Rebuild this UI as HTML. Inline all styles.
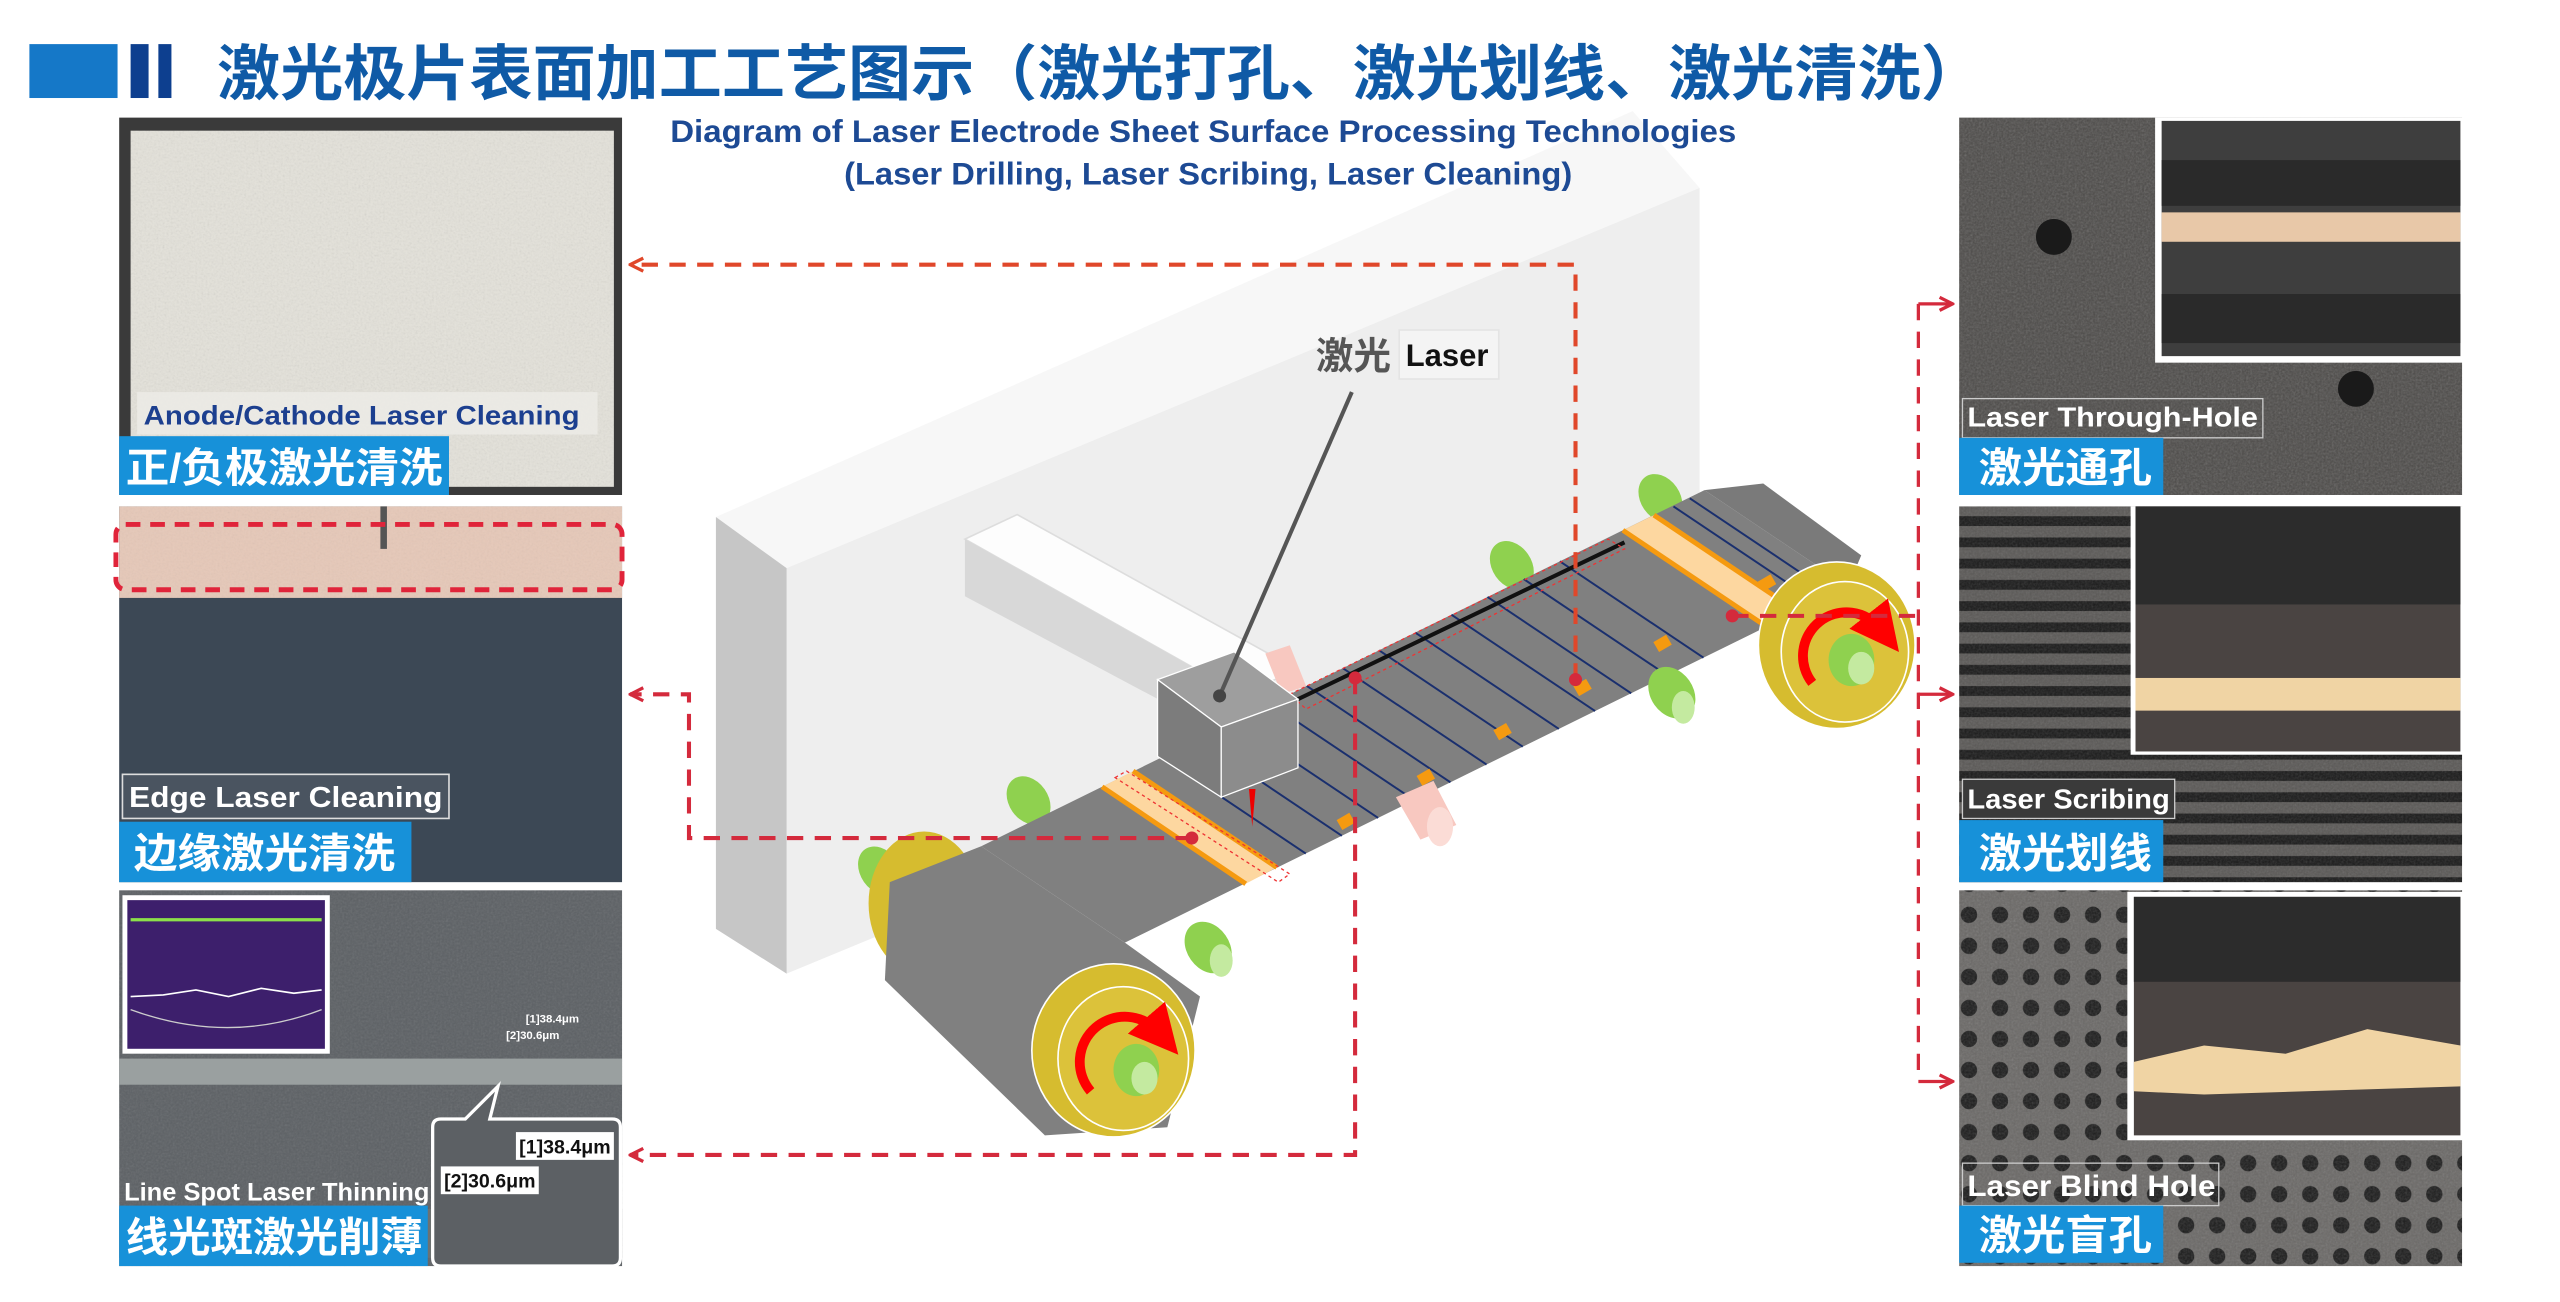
<!DOCTYPE html>
<html><head><meta charset="utf-8"><style>
html,body{margin:0;padding:0;background:#fff;}
svg{display:block;}
text{font-family:"Liberation Sans","Noto Sans CJK SC",sans-serif;font-weight:bold;}
</style></head><body>
<svg width="2560" height="1302" viewBox="0 0 1568 797" preserveAspectRatio="none" xmlns="http://www.w3.org/2000/svg">
<defs>
<filter id="nz" x="0" y="0" width="100%" height="100%"><feTurbulence type="fractalNoise" baseFrequency="0.8" numOctaves="2" seed="3"/><feColorMatrix type="saturate" values="0"/><feComponentTransfer><feFuncA type="table" tableValues="0 0.55"/></feComponentTransfer></filter>
<pattern id="stripes" width="20" height="13" patternUnits="userSpaceOnUse"><rect width="20" height="13" fill="#5a5856"/><rect y="4" width="20" height="6" fill="#1a1a1a"/></pattern>
<pattern id="dots" width="19" height="19" patternUnits="userSpaceOnUse"><rect width="19" height="19" fill="#6a6866"/><circle cx="9" cy="9" r="5" fill="#1c1c1c"/></pattern>
<marker id="ao" markerWidth="10" markerHeight="10" refX="9" refY="5" orient="auto" markerUnits="userSpaceOnUse"><path d="M1,1 L9,5 L1,9" fill="none" stroke="#e0472a" stroke-width="2"/></marker>
<marker id="arr" markerWidth="10" markerHeight="10" refX="9" refY="5" orient="auto" markerUnits="userSpaceOnUse"><path d="M1,1 L9,5 L1,9" fill="none" stroke="#d42a3c" stroke-width="2"/></marker>
<marker id="rh" markerWidth="5" markerHeight="5" refX="2" refY="2.5" orient="auto"><path d="M0,0 L5,2.5 L0,5Z" fill="#f00"/></marker>
</defs>

<!-- Title -->
<rect x="18" y="27" width="54" height="33" fill="#1578c8"/>
<rect x="80" y="27" width="11" height="33" fill="#0d3f8f"/>
<rect x="97" y="27" width="8" height="33" fill="#0d3f8f"/>
<text x="133" y="58" font-size="37" fill="#0f5aa6" textLength="1082" lengthAdjust="spacingAndGlyphs">激光极片表面加工工艺图示（激光打孔、激光划线、激光清洗）</text>

<!-- Back wall -->
<polygon points="438.5,316.5 1000,68 1041,115 481.8,347.8" fill="#f7f7f7"/>
<polygon points="481.8,347.8 1041,115 1041,365 481.8,596" fill="#eeeeee"/>
<polygon points="438.5,316.5 481.8,347.8 481.8,596 438.5,568.6" fill="#c6c6c6"/>

<text x="737" y="87" font-size="19" fill="#1d4a94" text-anchor="middle" textLength="653" lengthAdjust="spacingAndGlyphs">Diagram of Laser Electrode Sheet Surface Processing Technologies</text>
<text x="740" y="113" font-size="19" fill="#1d4a94" text-anchor="middle" textLength="446" lengthAdjust="spacingAndGlyphs">(Laser Drilling, Laser Scribing, Laser Cleaning)</text>

<!-- Arm -->
<polygon points="591,330 623,315 795,410 760,425" fill="#fdfdfd" stroke="#ddd"/>
<polygon points="591,330 760,425 760,455 591,365" fill="#d8d8d8"/>

<!-- green/pink pegs behind -->
<g fill="#8fd14f">
<ellipse cx="539" cy="533" rx="12" ry="16" transform="rotate(-35 539 533)"/>
<ellipse cx="630" cy="490" rx="12" ry="16" transform="rotate(-35 630 490)"/>
<ellipse cx="926" cy="346" rx="12" ry="16" transform="rotate(-35 926 346)"/>
<ellipse cx="1017" cy="305" rx="12" ry="16" transform="rotate(-35 1017 305)"/>
</g>
<polygon points="775,400 790,395 800,420 785,425" fill="#f8c8c0"/>

<!-- Belt lower run & left roller -->
<ellipse cx="566" cy="553" rx="34" ry="44" fill="#d6bc2f"/>
<polygon points="545,540 601,518 689,577 735,610 715,690 640,695 542,600" fill="#808080"/>
<!-- belt upper run -->
<polygon points="601,518 1044,300 1132,359 689,577" fill="#808080"/>
<polygon points="1044,300 1080,296 1140,340 1132,359" fill="#7a7a7a"/>
<!-- peach bands -->
<polygon points="675,481.6 694,472 782,531 763,541" fill="#fdd7a0"/>
<line x1="675" y1="481.6" x2="763" y2="541" stroke="#f59a10" stroke-width="3"/>
<line x1="694" y1="472" x2="782" y2="531" stroke="#f59a10" stroke-width="3"/>
<polygon points="994,324.6 1013,315.3 1101,374.3 1082,383.6" fill="#fdd7a0"/>
<line x1="994" y1="324.6" x2="1082" y2="383.6" stroke="#f59a10" stroke-width="3"/>
<line x1="1013" y1="315.3" x2="1101" y2="374.3" stroke="#f59a10" stroke-width="3"/>
<!-- blue lines -->
<g stroke="#1a2f6e" stroke-width="1.2">
<line x1="711.8" y1="463.5" x2="799.8" y2="522.5"/><line x1="733.9" y1="452.6" x2="821.9" y2="511.6"/>
<line x1="756.1" y1="441.7" x2="844.1" y2="500.7"/><line x1="778.2" y1="430.8" x2="866.2" y2="489.8"/>
<line x1="800.4" y1="419.9" x2="888.4" y2="478.9"/><line x1="822.5" y1="409" x2="910.5" y2="468"/>
<line x1="844.7" y1="398.1" x2="932.7" y2="457.1"/><line x1="866.8" y1="387.2" x2="954.8" y2="446.2"/>
<line x1="889" y1="376.3" x2="977" y2="435.3"/><line x1="911.1" y1="365.4" x2="999.1" y2="424.4"/>
<line x1="933.3" y1="354.5" x2="1021.3" y2="413.5"/><line x1="955.4" y1="343.6" x2="1043.4" y2="402.6"/>
<line x1="1025" y1="310" x2="1113" y2="369"/><line x1="1035" y1="305" x2="1123" y2="364"/>
</g>
<line x1="795" y1="428" x2="995" y2="332" stroke="#111" stroke-width="2.5"/>
<polygon points="790,425 985,330 995,336 800,434" fill="none" stroke="#e33" stroke-width="0.8" stroke-dasharray="2,2"/>
<polygon points="683,476 690,472 790,535 783,540" fill="none" stroke="#e33" stroke-width="0.8" stroke-dasharray="2,2"/>
<!-- orange squares -->
<g fill="#f59a10">
<rect x="820" y="499" width="9" height="7" transform="rotate(-30 825 503)"/>
<rect x="869" y="472" width="9" height="7" transform="rotate(-30 874 476)"/>
<rect x="916" y="444" width="9" height="7" transform="rotate(-30 921 448)"/>
<rect x="965" y="417" width="9" height="7" transform="rotate(-30 970 421)"/>
<rect x="1014" y="390" width="9" height="7" transform="rotate(-30 1019 394)"/>
<rect x="1078" y="353" width="9" height="7" transform="rotate(-30 1083 357)"/>
</g>
<!-- front pegs -->
<g fill="#8fd14f">
<ellipse cx="740" cy="580" rx="13" ry="17" transform="rotate(-35 740 580)"/>
<ellipse cx="1024" cy="424" rx="13" ry="17" transform="rotate(-35 1024 424)"/>
</g>
<ellipse cx="748" cy="588" rx="7" ry="10" fill="#c4eaa0"/>
<ellipse cx="1031" cy="433" rx="7" ry="10" fill="#c4eaa0"/>
<polygon points="855,488 878,478 892,505 870,514" fill="#f8c8c0"/>
<ellipse cx="882" cy="506" rx="8" ry="12" fill="#fbdcd6"/>

<!-- front roller -->
<ellipse cx="682" cy="643" rx="50" ry="53" fill="#d6bc2f" stroke="#fff" stroke-width="1"/>
<ellipse cx="688" cy="648" rx="40" ry="44" fill="#dcc23a" stroke="#fff" stroke-width="1"/>
<ellipse cx="696" cy="655" rx="14" ry="16" fill="#8fd14f"/>
<ellipse cx="701" cy="660" rx="8" ry="10" fill="#c4eaa0"/>
<path d="M668,668 A26,26 0 0 1 710,632" fill="none" stroke="#f00" stroke-width="6" marker-end="url(#rh)"/>
<!-- right roller -->
<ellipse cx="1125" cy="395" rx="48" ry="51" fill="#d6bc2f" stroke="#fff"/>
<ellipse cx="1130" cy="399" rx="39" ry="43" fill="#dcc23a" stroke="#fff"/>
<ellipse cx="1134" cy="404" rx="14" ry="16" fill="#8fd14f"/>
<ellipse cx="1140" cy="409" rx="8" ry="10" fill="#c4eaa0"/>
<path d="M1110,418 A26,26 0 0 1 1152,385" fill="none" stroke="#f00" stroke-width="6" marker-end="url(#rh)"/>

<!-- cube -->
<polygon points="709,416 756,399 795,428 748,445" fill="#9e9e9e" stroke="#fff" stroke-width="0.8"/>
<polygon points="709,416 748,445 748,488 709,463" fill="#7c7c7c" stroke="#fff" stroke-width="0.8"/>
<polygon points="748,445 795,428 795,470 748,488" fill="#8c8c8c" stroke="#fff" stroke-width="0.8"/>
<polygon points="765,483 769,483 767,506" fill="#e00"/>

<!-- laser label -->
<line x1="828" y1="240" x2="747" y2="426" stroke="#555" stroke-width="2.5"/>
<circle cx="747" cy="426" r="4" fill="#444"/>
<rect x="857" y="202" width="61" height="30" fill="#f4f4f4" stroke="#e4e4e4"/>
<text x="806" y="226" font-size="23" fill="#555">激光</text>
<text x="861" y="224" font-size="19" fill="#111">Laser</text>

<!-- connectors -->
<polyline points="965,416 965,162 386,162" fill="none" stroke="#e0472a" stroke-width="2.5" stroke-dasharray="10,7" marker-end="url(#ao)"/>
<polyline points="730,513 422,513 422,425 386,425" fill="none" stroke="#d42a3c" stroke-width="2.5" stroke-dasharray="10,7" marker-end="url(#arr)"/>
<polyline points="830,415 830,707 386,707" fill="none" stroke="#d42a3c" stroke-width="2.5" stroke-dasharray="10,7" marker-end="url(#arr)"/>
<polyline points="1061,377 1175,377" fill="none" stroke="#d42a3c" stroke-width="2.5" stroke-dasharray="10,7"/>
<line x1="1175" y1="186" x2="1175" y2="662" stroke="#d42a3c" stroke-width="2" stroke-dasharray="10,7"/>
<line x1="1175" y1="186" x2="1196" y2="186" stroke="#d42a3c" stroke-width="2" marker-end="url(#arr)"/>
<line x1="1175" y1="425" x2="1196" y2="425" stroke="#d42a3c" stroke-width="2" marker-end="url(#arr)"/>
<line x1="1175" y1="662" x2="1196" y2="662" stroke="#d42a3c" stroke-width="2" marker-end="url(#arr)"/>
<g fill="#d42a3c"><circle cx="730" cy="513" r="4"/><circle cx="830" cy="415" r="4"/><circle cx="965" cy="416" r="4"/><circle cx="1061" cy="377" r="4"/></g>

<!-- LEFT PANEL 1 -->
<rect x="73" y="72" width="308" height="231" fill="#3a3a3a"/>
<rect x="80" y="80" width="296" height="218" fill="#e4e2da"/>
<rect x="80" y="80" width="296" height="218" filter="url(#nz)" opacity="0.4"/>
<rect x="84" y="240" width="282" height="26" fill="#ecebe6" opacity="0.85"/>
<text x="88" y="260" font-size="16.5" fill="#1c3f8f" textLength="267" lengthAdjust="spacingAndGlyphs">Anode/Cathode Laser Cleaning</text>
<rect x="73" y="267" width="202" height="36" fill="#1791d9"/>
<text x="77" y="295" font-size="25" fill="#fff" textLength="194" lengthAdjust="spacingAndGlyphs">正/负极激光清洗</text>

<!-- LEFT PANEL 2 -->
<rect x="73" y="310" width="308" height="230" fill="#3c4855"/>
<rect x="73" y="310" width="308" height="56" fill="#e6c8b8"/>
<rect x="73" y="310" width="308" height="56" filter="url(#nz)" opacity="0.25"/>
<rect x="233" y="310" width="4" height="26" fill="#555"/>
<rect x="71" y="321" width="310" height="40" rx="6" fill="none" stroke="#e0243a" stroke-width="3" stroke-dasharray="9,6"/>
<rect x="75" y="474" width="200" height="27" fill="#4a5460" stroke="#ddd" stroke-width="1"/>
<text x="79" y="494" font-size="17.5" fill="#fff" textLength="192" lengthAdjust="spacingAndGlyphs">Edge Laser Cleaning</text>
<rect x="73" y="503" width="179" height="37" fill="#1791d9"/>
<text x="82" y="531" font-size="25" fill="#fff" textLength="160" lengthAdjust="spacingAndGlyphs">边缘激光清洗</text>

<!-- LEFT PANEL 3 -->
<rect x="73" y="545" width="308" height="230" fill="#5c6064"/>
<rect x="73" y="545" width="308" height="230" filter="url(#nz)" opacity="0.3"/>
<rect x="73" y="648" width="308" height="16" fill="#9aa0a0"/>
<rect x="73" y="740" width="308" height="30" fill="#6c7272"/>
<rect x="75" y="548" width="127" height="97" fill="#fff"/>
<rect x="78" y="551" width="121" height="91" fill="#3d1f6c"/>
<line x1="80" y1="563" x2="197" y2="563" stroke="#8ce04a" stroke-width="2"/>
<polyline points="80,610 100,609 120,606 140,610 160,605 180,608 197,606" fill="none" stroke="#fff" stroke-width="1"/>
<path d="M80,618 Q140,640 197,618" fill="none" stroke="#ccc" stroke-width="0.8"/>
<text x="322" y="626" font-size="7" fill="#fff" font-weight="normal">[1]38.4μm</text>
<text x="310" y="636" font-size="7" fill="#fff" font-weight="normal">[2]30.6μm</text>
<path d="M270,685 L285,685 L305,665 L300,685 L375,685 Q380,685 380,690 L380,770 Q380,775 375,775 L270,775 Q265,775 265,770 L265,690 Q265,685 270,685Z" fill="#5c6064" stroke="#fff" stroke-width="2"/>
<rect x="316" y="693" width="60" height="17" fill="#fff"/>
<text x="318" y="706" font-size="12" fill="#111" font-weight="normal" textLength="56" lengthAdjust="spacingAndGlyphs">[1]38.4μm</text>
<rect x="270" y="714" width="60" height="17" fill="#fff"/>
<text x="272" y="727" font-size="12" fill="#111" font-weight="normal" textLength="56" lengthAdjust="spacingAndGlyphs">[2]30.6μm</text>
<text x="76" y="735" font-size="15.5" fill="#fff" textLength="187" lengthAdjust="spacingAndGlyphs">Line Spot Laser Thinning</text>
<rect x="73" y="738" width="189" height="37" fill="#1791d9"/>
<text x="77" y="766" font-size="25" fill="#fff" textLength="182" lengthAdjust="spacingAndGlyphs">线光斑激光削薄</text>

<!-- RIGHT PANEL 1 -->
<rect x="1200" y="72" width="308" height="231" fill="#4c4a48"/>
<rect x="1200" y="72" width="308" height="231" filter="url(#nz)" opacity="0.5"/>
<circle cx="1258" cy="145" r="11" fill="#1a1a1a"/>
<circle cx="1443" cy="238" r="11" fill="#1a1a1a"/>
<rect x="1320" y="72" width="189" height="150" fill="#fff"/>
<rect x="1324" y="74" width="183" height="144" fill="#3e3e3e"/>
<rect x="1324" y="98" width="183" height="28" fill="#2a2a2a"/>
<rect x="1324" y="130" width="183" height="18" fill="#e8c8a8"/>
<rect x="1324" y="180" width="183" height="30" fill="#2a2a2a"/>
<text x="1205" y="261" font-size="17" fill="#fff" textLength="178" lengthAdjust="spacingAndGlyphs">Laser Through-Hole</text>
<rect x="1202" y="244" width="184" height="24" fill="none" stroke="#ccc" stroke-width="0.8"/>
<rect x="1200" y="268" width="125" height="35" fill="#1791d9"/>
<text x="1212" y="295" font-size="25" fill="#fff" textLength="106" lengthAdjust="spacingAndGlyphs">激光通孔</text>

<!-- RIGHT PANEL 2 -->
<rect x="1200" y="310" width="308" height="230" fill="url(#stripes)"/>
<rect x="1200" y="310" width="308" height="230" filter="url(#nz)" opacity="0.35"/>
<rect x="1305" y="310" width="204" height="152" fill="#fff"/>
<rect x="1308" y="310" width="199" height="150" fill="#4a4442"/>
<rect x="1308" y="310" width="199" height="60" fill="#2c2c2c"/>
<rect x="1308" y="415" width="199" height="20" fill="#f0d4a4"/>
<rect x="1202" y="477" width="130" height="24" fill="#3a3a3a" stroke="#ccc" stroke-width="0.8"/>
<text x="1205" y="495" font-size="17" fill="#fff" textLength="124" lengthAdjust="spacingAndGlyphs">Laser Scribing</text>
<rect x="1200" y="502" width="125" height="38" fill="#1791d9"/>
<text x="1212" y="531" font-size="25" fill="#fff" textLength="106" lengthAdjust="spacingAndGlyphs">激光划线</text>

<!-- RIGHT PANEL 3 -->
<rect x="1200" y="545" width="308" height="230" fill="url(#dots)"/>
<rect x="1200" y="545" width="308" height="230" filter="url(#nz)" opacity="0.4"/>
<rect x="1303" y="546" width="208" height="152" fill="#fff"/>
<rect x="1307" y="549" width="200" height="146" fill="#4a4442"/>
<rect x="1307" y="549" width="200" height="52" fill="#2c2c2c"/>
<path d="M1307,650 L1350,640 L1400,645 L1450,630 L1507,640 L1507,665 L1350,670 L1307,668Z" fill="#f0d4a4"/>
<rect x="1202" y="712" width="157" height="26" fill="none" stroke="#ccc" stroke-width="0.8"/>
<text x="1205" y="732" font-size="18" fill="#fff" textLength="152" lengthAdjust="spacingAndGlyphs">Laser Blind Hole</text>
<rect x="1200" y="738" width="125" height="35" fill="#1791d9"/>
<text x="1212" y="765" font-size="25" fill="#fff" textLength="106" lengthAdjust="spacingAndGlyphs">激光盲孔</text>
</svg>
</body></html>
